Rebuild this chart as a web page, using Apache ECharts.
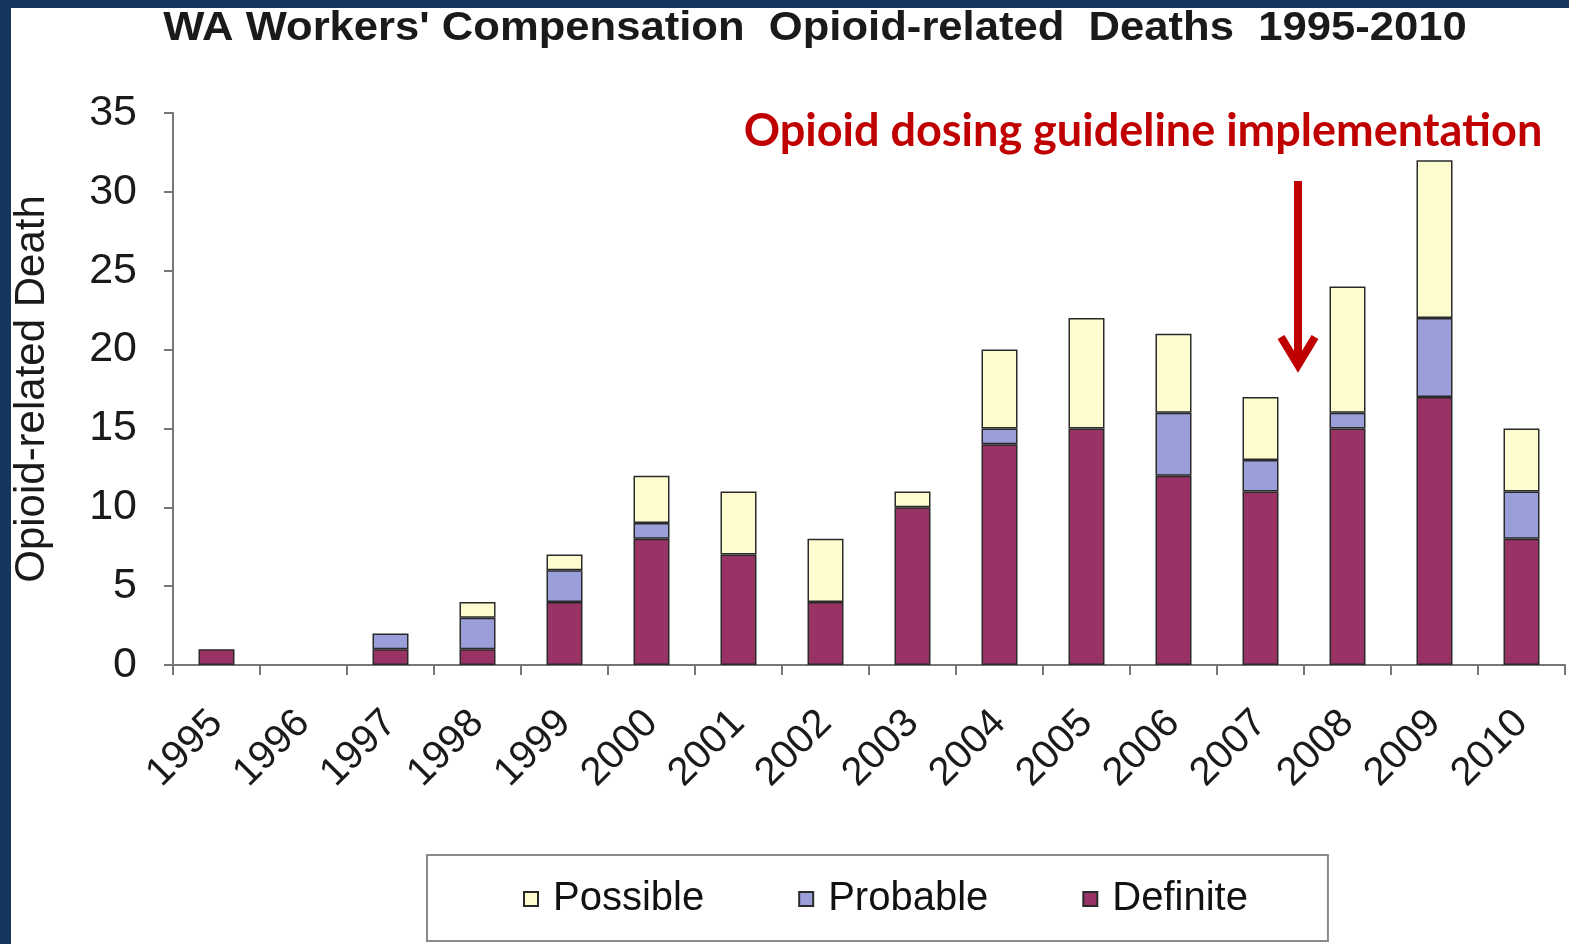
<!DOCTYPE html>
<html>
<head>
<meta charset="utf-8">
<script src="https://cdn.jsdelivr.net/npm/echarts@6/dist/echarts.min.js"></script>
<style>
html,body{margin:0;padding:0;background:#fff;}
#c{width:1569px;height:944px;}
</style>
</head>
<body>
<div id="c"></div>
<script>
const years = ['1995','1996','1997','1998','1999','2000','2001','2002','2003','2004','2005','2006','2007','2008','2009','2010'];
const definite = [1,0,1,1,4,8,7,4,10,14,15,12,11,15,17,8];
const probable = [0,0,1,2,2,1,0,0,0,1,0,4,2,1,5,3];
const possible = [0,0,0,1,1,3,4,4,1,5,7,5,4,8,10,4];
const yTicks = [0,5,10,15,20,25,30,35];
const titleText = "WA Workers' Compensation  Opioid-related  Deaths  1995-2010";
const noteText = 'Opioid dosing guideline implementation';

const chart = echarts.init(document.getElementById('c'));
const barBorder = {borderColor:'#2a2a2a', borderWidth:1.5};
const font = 'Liberation Sans, Arial, sans-serif';
const nz = arr => arr.map(v => v === 0 ? '-' : v);

chart.setOption({
  animation:false,
  backgroundColor:'#ffffff',
  legend:{
    data:['Possible','Probable','Definite'],
    left:427, top:855,
    orient:'horizontal',
    icon:'rect',
    borderColor:'#8a8a8a', borderWidth:2,
    padding:[24,80,22,96],
    itemWidth:14, itemHeight:14, itemGap:94,
    textStyle:{fontFamily:font, fontSize:40, color:'#111', padding:[0,0,0,10]}
  },
  grid:{left:173, right:4, top:113, bottom:279, containLabel:false},
  xAxis:{
    type:'category', data:years,
    axisLine:{lineStyle:{color:'#777', width:2}},
    axisTick:{show:true, length:10, lineStyle:{color:'#777', width:2}},
    axisLabel:{rotate:45, fontFamily:font, fontSize:40, color:'#1a1a1a', margin:52, interval:0}
  },
  yAxis:{
    type:'value', min:0, max:35, interval:5,
    name:'Opioid-related Death', nameLocation:'middle', nameGap:120, nameRotate:90,
    nameTextStyle:{fontFamily:font, fontSize:42, color:'#1a1a1a'},
    axisLine:{show:true, lineStyle:{color:'#777', width:2}},
    axisTick:{show:true, length:9, lineStyle:{color:'#777', width:2}},
    splitLine:{show:false},
    axisLabel:{fontFamily:font, fontSize:43, color:'#1a1a1a', margin:36,
      formatter:function(v){return yTicks.indexOf(v)>=0?String(v):'';}}
  },
  series:[
    {name:'Definite', type:'bar', stack:'s', data:nz(definite), barWidth:36,
      itemStyle:Object.assign({color:'#993366'}, barBorder)},
    {name:'Probable', type:'bar', stack:'s', data:nz(probable), barWidth:36,
      itemStyle:Object.assign({color:'#9a9ed9'}, barBorder)},
    {name:'Possible', type:'bar', stack:'s', data:nz(possible), barWidth:36,
      itemStyle:Object.assign({color:'#fdfccf'}, barBorder)}
  ],
  graphic:[
    {type:'rect', left:0, top:0, shape:{width:1569, height:8}, style:{fill:'#17365d'}, z:100},
    {type:'rect', left:0, top:0, shape:{width:11, height:944}, style:{fill:'#17365d'}, z:100},
    {type:'text', x:815, y:29, scaleX:1.09, style:{text:titleText,
      fill:'#1a1a1a', font:'bold 40px "Liberation Sans", Arial, sans-serif', align:'center', verticalAlign:'middle'}, z:100},
    {type:'text', x:1143, y:131, style:{text:noteText,
      fill:'#c00000', font:'bold 45px Lato, "Open Sans", sans-serif', align:'center', verticalAlign:'middle'}, z:100},
    {type:'line', shape:{x1:1298, y1:181, x2:1298, y2:364}, style:{stroke:'#c00000', lineWidth:8}, z:100},
    {type:'polyline', shape:{points:[[1281,337],[1298,365],[1315,337]]}, style:{stroke:'#c00000', lineWidth:8, fill:null, lineJoin:'miter'}, z:100}
  ]
});
</script>
</body>
</html>
